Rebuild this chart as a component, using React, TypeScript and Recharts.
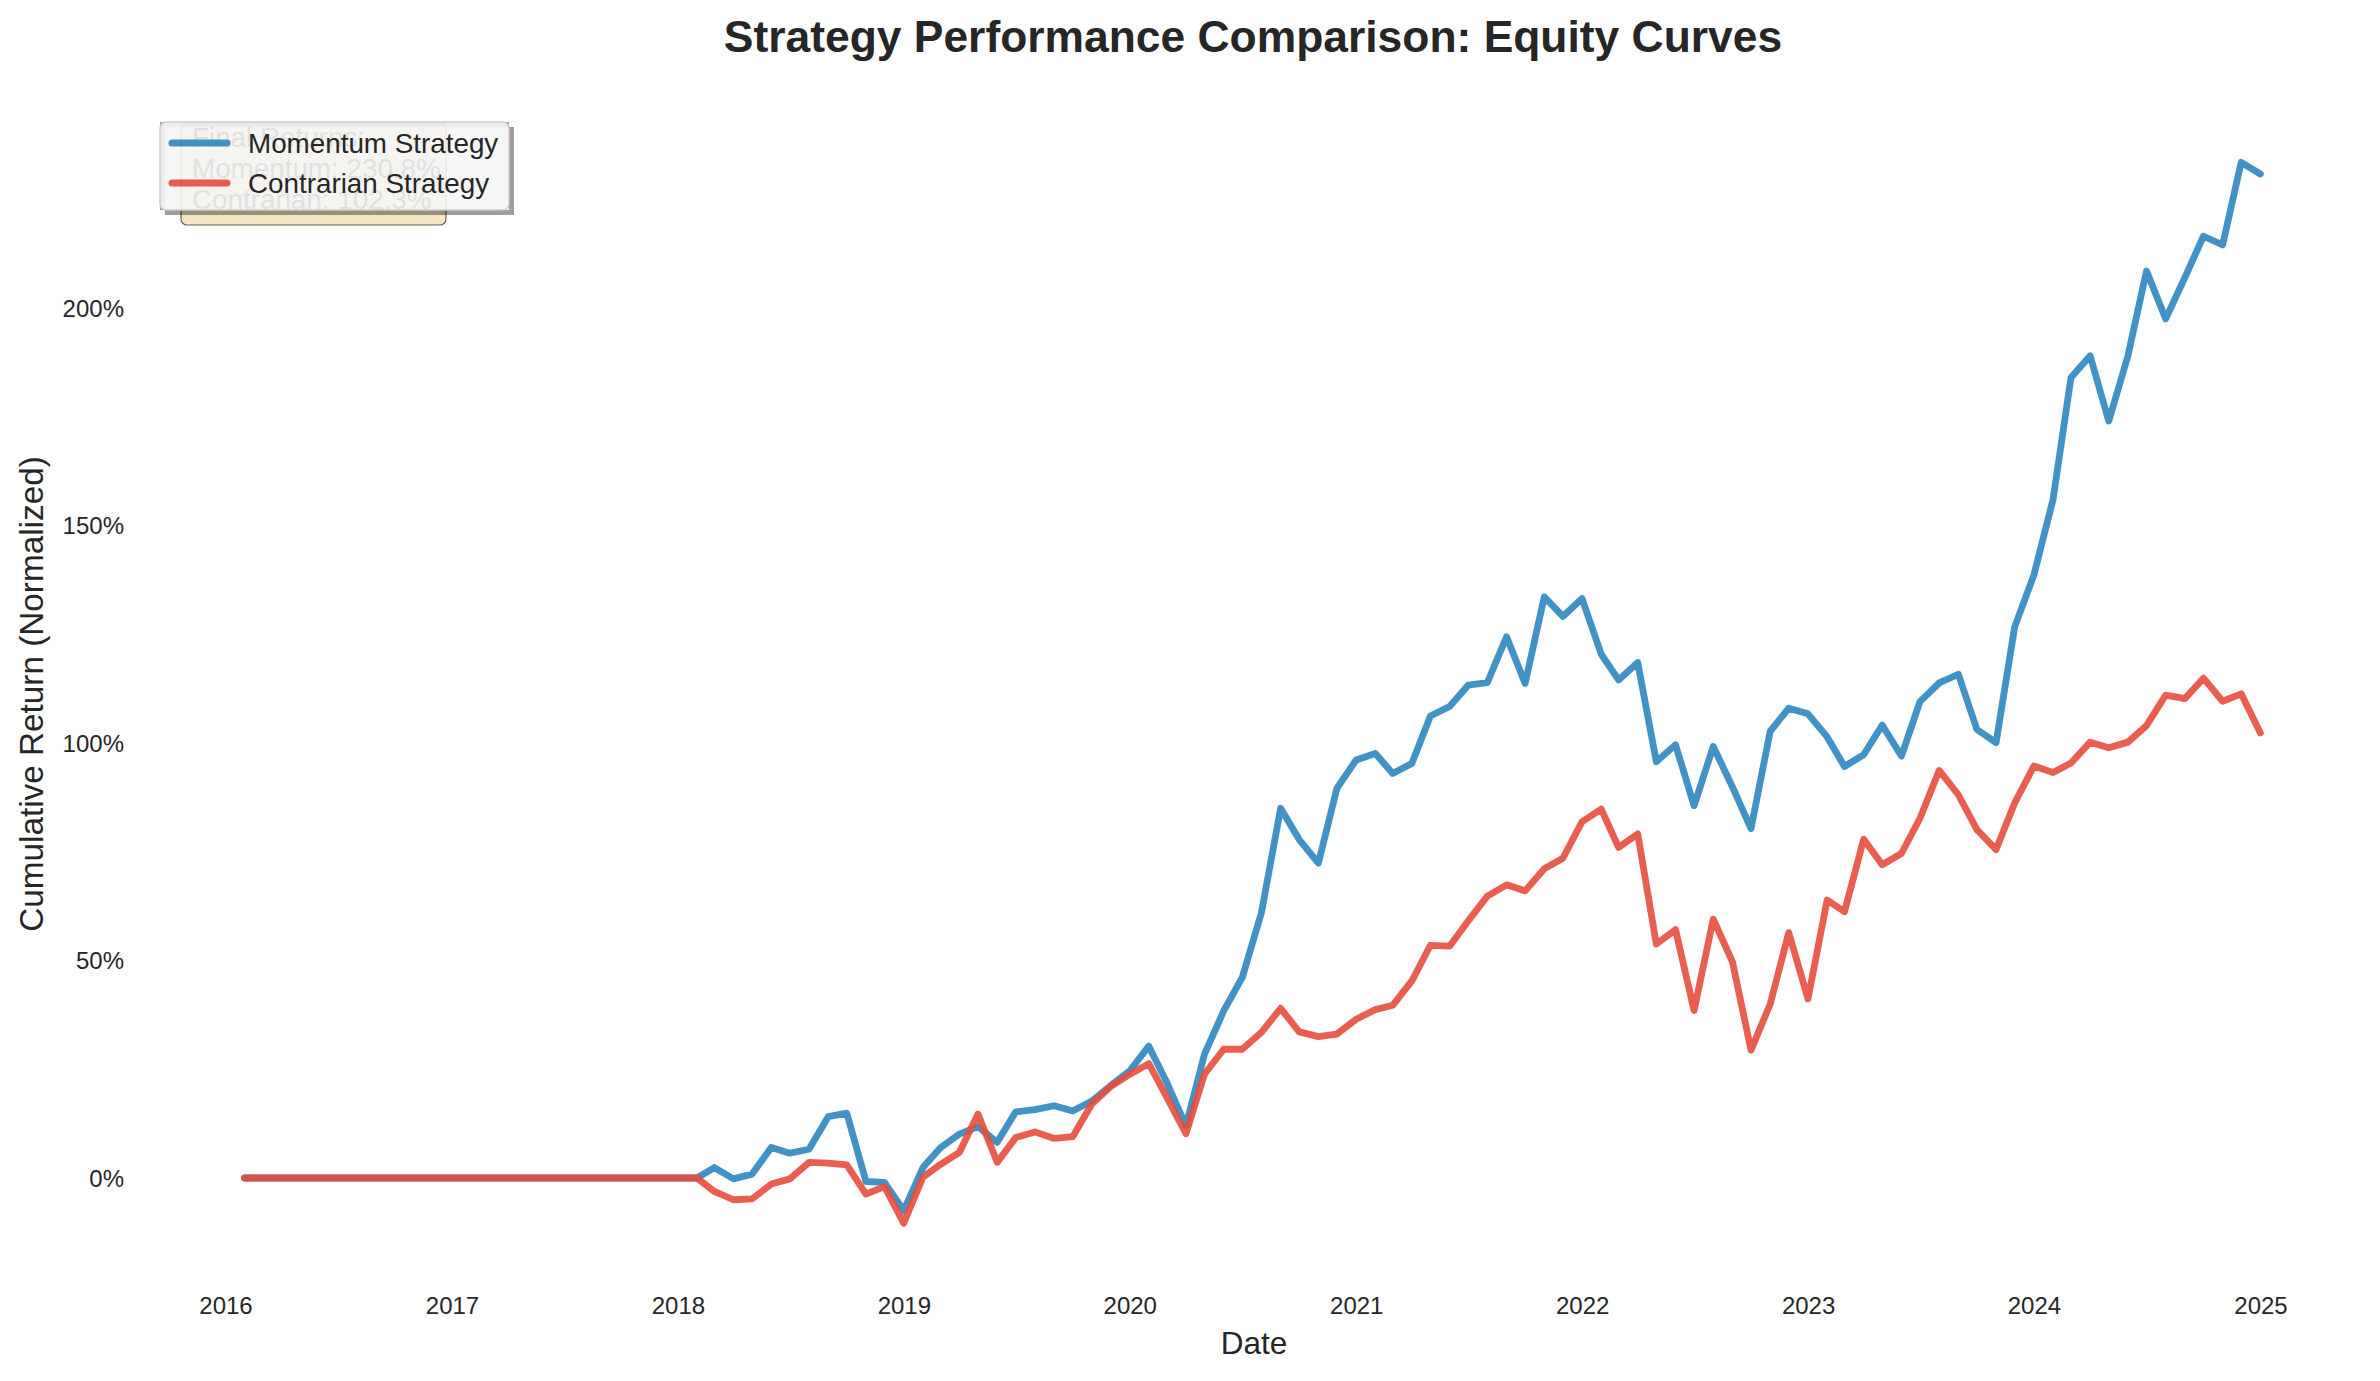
import React from 'react';
import { LineChart, Line, XAxis, YAxis } from 'recharts';

const W = 2380;
const H = 1381;
const FONT = '"Liberation Sans", Arial, Helvetica, sans-serif';
const TEXT = '#262626';

// ---- categories (month-end dates, Jan 2016 .. Dec 2024) ----
const startYear = 2016;
const endYear = 2024;
const months: string[] = [];
for (let y = startYear; y <= endYear; y++) {
  for (let m = 1; m <= 12; m++) months.push(`${y}-${String(m).padStart(2, '0')}`);
}

// ---- tick labels ----
const xTickYears = [2016, 2017, 2018, 2019, 2020, 2021, 2022, 2023, 2024, 2025];
const yTicks = [0, 50, 100, 150, 200];

// ---- series ----
const seriesNames = ['Momentum Strategy', 'Contrarian Strategy'];
const seriesColors = ['#2E86C1', '#E74C3C'];

const momentum = [
  0, 0, 0, 0, 0, 0, 0, 0, 0, 0, 0, 0,
  0, 0, 0, 0, 0, 0, 0, 0, 0, 0, 0, 0,
  0, 2.4, -0.2, 0.9, 7.0, 5.7, 6.6, 14.1, 14.9, -0.8, -1.0, -7.5,
  2.4, 6.9, 10.1, 11.8, 8.2, 15.2, 15.7, 16.6, 15.4, 17.7, 21.2, 24.6,
  30.3, 22.0, 12.0, 28.5, 38.4, 46.1, 61.0, 85.0, 77.8, 72.4, 89.6, 96.1,
  97.6, 93.0, 95.3, 106.2, 108.4, 113.3, 113.9, 124.4, 113.7, 133.6, 129.1, 133.2,
  120.4, 114.5, 118.5, 95.7, 99.6, 85.6, 99.2, 89.9, 80.3, 102.7, 108.0, 106.7,
  101.4, 94.6, 97.3, 104.1, 97.0, 109.5, 113.8, 115.8, 103.1, 100.1, 126.7, 138.6,
  156.0, 184.0, 189.0, 174.0, 189.0, 208.5, 197.5, 207.0, 216.5, 214.5, 233.5, 230.8,
];

const contrarian = [
  0, 0, 0, 0, 0, 0, 0, 0, 0, 0, 0, 0,
  0, 0, 0, 0, 0, 0, 0, 0, 0, 0, 0, 0,
  0, -3.1, -5.0, -4.8, -1.4, -0.2, 3.6, 3.4, 3.0, -3.7, -2.0, -10.4,
  0.2, 3.1, 5.9, 14.7, 3.6, 9.3, 10.6, 9.1, 9.5, 17.0, 21.0, 23.8,
  26.3, 18.6, 10.2, 23.9, 29.6, 29.6, 33.5, 39.0, 33.6, 32.5, 33.1, 36.5,
  38.7, 39.7, 45.3, 53.5, 53.3, 59.1, 64.8, 67.4, 66.0, 71.1, 73.5, 81.9,
  84.8, 76.0, 79.1, 53.8, 57.1, 38.5, 59.5, 49.7, 29.4, 40.0, 56.4, 41.2,
  63.9, 61.2, 77.9, 72.0, 74.6, 82.7, 93.7, 88.1, 80.1, 75.5, 86.2, 94.7,
  93.2, 95.4, 100.2, 98.9, 100.2, 104.0, 111.0, 110.2, 114.9, 109.6, 111.3, 102.3,
];

const summaryLines = ['Final Returns:', 'Momentum: 230.8%', 'Contrarian: 102.3%'];

// ---- table for the library ----
const monthEnd = (s: string) => {
  const [y, m] = s.split('-').map(Number);
  return Date.UTC(y, m, 0);
};
const data = months.map((m, i) => ({
  t: monthEnd(m),
  momentum: momentum[i],
  contrarian: contrarian[i],
}));

// ---- layout ----
const PLOT_L = 144;
const PLOT_R = 2373;
const PLOT_T = 105;
const PLOT_B = 1278;

const T16 = Date.UTC(2016, 0, 1);
const T25 = Date.UTC(2025, 0, 1);
const PX16 = 226;
const PX25 = 2261;
const msPerPx = (T25 - T16) / (PX25 - PX16);
const xDomain = [T16 - (PX16 - PLOT_L) * msPerPx, T25 + (PLOT_R - PX25) * msPerPx];
const xTicks = xTickYears.map((y) => Date.UTC(y, 0, 1));

const ZERO_PX = 1178;
const PX_PER_PCT = 4.35;
const yDomain = [-(PLOT_B - ZERO_PX) / PX_PER_PCT, (ZERO_PX - PLOT_T) / PX_PER_PCT];

const tickStyle = { fontSize: 24, fill: TEXT, fontFamily: FONT };

// legend geometry
const LG = { x: 160, y: 122, w: 349, h: 88 };
const SH = 5;
const WB = { x: 181, y: 123, w: 265, h: 102 };

export default function App() {
  const keys = ['momentum', 'contrarian'];
  return (
    <div style={{ position: 'absolute', left: 0, top: 0, width: W, height: H, background: '#ffffff', fontFamily: FONT }}>
      <LineChart width={W} height={H} data={data} margin={{ top: PLOT_T, right: W - PLOT_R, bottom: 0, left: 0 }}>
        <XAxis
          dataKey="t"
          type="number"
          domain={xDomain}
          ticks={xTicks}
          interval={0}
          allowDataOverflow
          tickFormatter={(t: number) => String(new Date(t).getUTCFullYear())}
          axisLine={false}
          tickLine={false}
          tickSize={0}
          tickMargin={19}
          height={H - PLOT_B}
          tick={tickStyle}
        />
        <YAxis
          type="number"
          domain={yDomain}
          ticks={yTicks}
          interval={0}
          allowDataOverflow
          tickFormatter={(v: number) => `${v}%`}
          axisLine={false}
          tickLine={false}
          tickSize={0}
          tickMargin={20}
          width={PLOT_L}
          tick={tickStyle}
        />
        {keys.map((k, i) => (
          <Line
            key={k}
            type="linear"
            dataKey={k}
            name={seriesNames[i]}
            stroke={seriesColors[i]}
            strokeOpacity={0.9}
            strokeWidth={6.8}
            strokeLinejoin="round"
            strokeLinecap="round"
            dot={false}
            activeDot={false}
            isAnimationActive={false}
          />
        ))}
      </LineChart>

      <svg width={W} height={H} style={{ position: 'absolute', left: 0, top: 0, pointerEvents: 'none' }} fontFamily={FONT}>
        <text x={1253} y={52} textAnchor="middle" fontSize={44.4} fontWeight="bold" fill={TEXT}>
          Strategy Performance Comparison: Equity Curves
        </text>
        <text x={1254} y={1354} textAnchor="middle" fontSize={31.5} fill={TEXT}>
          Date
        </text>
        <text transform="translate(43,694) rotate(-90)" textAnchor="middle" fontSize={33.3} fill={TEXT}>
          Cumulative Return (Normalized)
        </text>

        {/* summary box (behind the legend) */}
        <rect x={WB.x} y={WB.y} width={WB.w} height={WB.h} rx={6} fill="#F5DEB3" fillOpacity={0.8} stroke="#000" strokeOpacity={0.6} strokeWidth={1.2} />
        {summaryLines.map((s, i) => (
          <text key={s} x={192} y={147 + i * 31} fontSize={27.8} fill={TEXT}>
            {s}
          </text>
        ))}

        {/* legend shadow */}
        <path
          d={`M${LG.x + SH},${LG.y + SH} h${LG.w} v${LG.h} h${-LG.w} Z M${LG.x},${LG.y} h${LG.w} v${LG.h} h${-LG.w} Z`}
          fill="#000"
          fillOpacity={0.38}
          fillRule="evenodd"
        />
        <rect x={LG.x} y={LG.y} width={LG.w} height={LG.h} rx={6} fill="#F5F5F5" fillOpacity={0.9} stroke="#CCCCCC" strokeWidth={1.5} />
        {seriesNames.map((n, i) => (
          <g key={n}>
            <line x1={LG.x + 12} x2={LG.x + 67} y1={143 + i * 40} y2={143 + i * 40} stroke={seriesColors[i]} strokeOpacity={0.9} strokeWidth={7} strokeLinecap="round" />
            <text x={LG.x + 88} y={153 + i * 40} fontSize={27.8} fill={TEXT}>
              {n}
            </text>
          </g>
        ))}
      </svg>
    </div>
  );
}
